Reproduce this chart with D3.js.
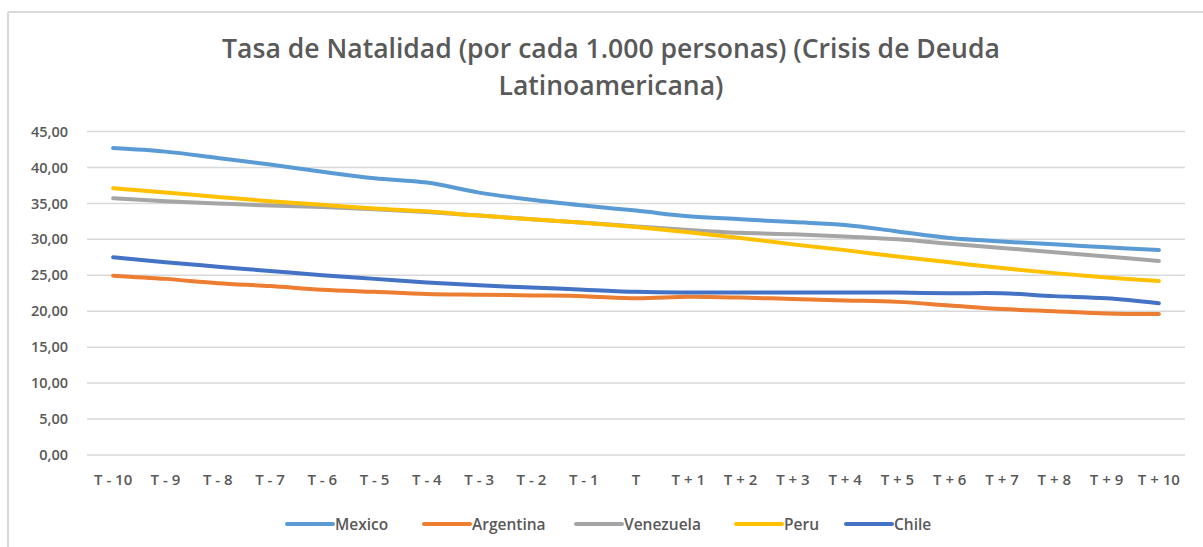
<!DOCTYPE html>
<html><head><meta charset="utf-8">
<script src="https://cdn.jsdelivr.net/npm/d3@7/dist/d3.min.js"></script>
<style>body{margin:0;background:#fff}svg{display:block}text{font-family:"Open Sans","Noto Sans",sans-serif}</style>
</head><body>
<svg id="c" width="1203" height="547"></svg>
<script>
const categories = ["T - 10","T - 9","T - 8","T - 7","T - 6","T - 5","T - 4","T - 3","T - 2","T - 1","T","T + 1","T + 2","T + 3","T + 4","T + 5","T + 6","T + 7","T + 8","T + 9","T + 10"];
const mexico    = [42.7,42.2,41.3,40.4,39.4,38.5,37.9,36.5,35.5,34.7,34.0,33.2,32.8,32.4,32.0,31.1,30.2,29.7,29.3,28.9,28.5];
const argentina = [24.95,24.5,23.9,23.5,23.0,22.7,22.4,22.3,22.2,22.1,21.8,22.0,21.9,21.7,21.5,21.3,20.8,20.3,20.0,19.7,19.6];
const venezuela = [35.7,35.3,35.0,34.7,34.5,34.2,33.8,33.3,32.8,32.3,31.8,31.3,30.9,30.7,30.4,30.0,29.4,28.8,28.2,27.6,27.0];
const peru      = [37.1,36.5,35.9,35.3,34.8,34.3,33.9,33.3,32.8,32.3,31.7,31.0,30.2,29.3,28.5,27.6,26.8,26.0,25.3,24.7,24.2];
const chile     = [27.5,26.8,26.2,25.6,25.0,24.5,24.0,23.6,23.3,23.0,22.7,22.6,22.6,22.6,22.6,22.6,22.5,22.5,22.1,21.8,21.1];
const yTicks    = [0,5,10,15,20,25,30,35,40,45];
const seriesNames = ["Mexico","Argentina","Venezuela","Peru","Chile"];
const colors = ["#5B9BD5","#ED7D31","#A5A5A5","#FFC000","#4472C4"];
const seriesData = [mexico, argentina, venezuela, peru, chile];

const svg = d3.select("#c");
// frame
svg.append("line").attr("x1",8).attr("x2",1203).attr("y1",12).attr("y2",12).attr("stroke","#d9d9d9").attr("stroke-width",2);
svg.append("line").attr("x1",8).attr("x2",8).attr("y1",12).attr("y2",547).attr("stroke","#d9d9d9").attr("stroke-width",2);

// title
const t1 = svg.append("text").attr("x",611).attr("y",58).attr("text-anchor","middle")
  .attr("fill","#595959").attr("font-size",27).attr("font-weight",600)
  .text("Tasa de Natalidad (por cada 1.000 personas) (Crisis de Deuda");
const t2 = svg.append("text").attr("x",611).attr("y",95).attr("text-anchor","middle")
  .attr("fill","#595959").attr("font-size",27).attr("font-weight",600)
  .text("Latinoamericana)");
const w1 = t1.node().getComputedTextLength();
const sc = 778 / w1;
t1.attr("font-size", 27*sc); t2.attr("font-size", 27*sc);

const x = d3.scaleBand().domain(categories).range([87,1185]);
const y = d3.scaleLinear().domain([0,45]).range([455,131.5]);

// gridlines
svg.append("g").selectAll("line").data(yTicks).join("line")
  .attr("x1",87).attr("x2",1185).attr("y1",d=>y(d)).attr("y2",d=>y(d))
  .attr("stroke","#d9d9d9").attr("stroke-width",1.5);

// y axis labels
const yAxis = svg.append("g").attr("transform","translate(68,0)")
  .call(d3.axisLeft(y).tickValues(yTicks).tickSize(0).tickPadding(0)
    .tickFormat(d=>d3.format(".2f")(d).replace(".",",")));
yAxis.select(".domain").remove();
yAxis.selectAll("text").attr("fill","#595959").attr("font-size",14.5).attr("font-weight",600)
  .attr("font-family",'"Open Sans",sans-serif');

// x axis labels
const xAxis = svg.append("g").attr("transform","translate(0,474)")
  .call(d3.axisBottom(x).tickSize(0).tickPadding(0));
xAxis.select(".domain").remove();
xAxis.selectAll("text").attr("fill","#595959").attr("font-size",15).attr("font-weight",600)
  .attr("font-family",'"Open Sans",sans-serif');

// lines
const line = d3.line().x((d,i)=>x(categories[i])+x.bandwidth()/2).y(d=>y(d)).curve(d3.curveCatmullRom.alpha(0.5));
svg.append("g").selectAll("path").data(seriesData).join("path")
  .attr("d",d=>line(d)).attr("fill","none")
  .attr("stroke",(d,i)=>colors[i]).attr("stroke-width",4).attr("stroke-linecap","round").attr("stroke-linejoin","round");

// legend
const legendX = [287,424,576,736,846];
const lg = svg.append("g").selectAll("g").data(seriesNames).join("g")
  .attr("transform",(d,i)=>`translate(${legendX[i]},524)`);
lg.append("line").attr("x1",0).attr("x2",46).attr("stroke",(d,i)=>colors[i]).attr("stroke-width",4).attr("stroke-linecap","round");
lg.append("text").attr("x",48).attr("y",5.5).attr("fill","#595959").attr("font-size",15.5).attr("font-weight",600)
  .attr("font-family",'"Open Sans",sans-serif').text(d=>d);
</script>
</body></html>
